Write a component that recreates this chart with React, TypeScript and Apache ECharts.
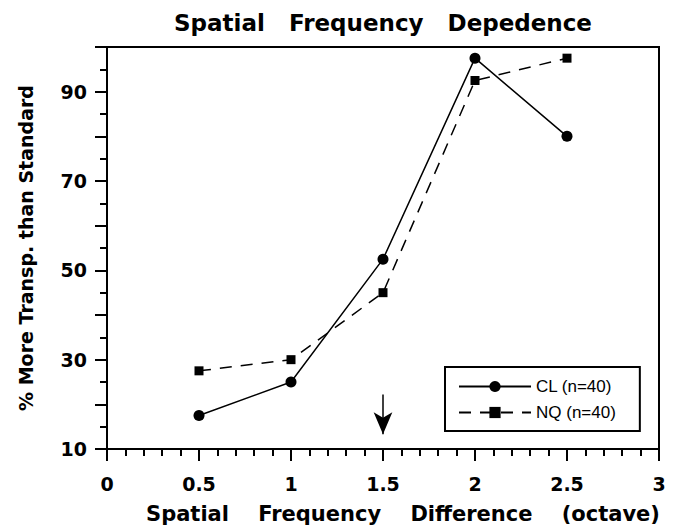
import React, { useEffect, useRef } from 'react';
import * as echarts from 'echarts';

const xValues = [0.5, 1, 1.5, 2, 2.5];
const clValues = [17.5, 25, 52.5, 97.5, 80];
const nqValues = [27.5, 30, 45, 92.5, 97.5];
const yLabelValues = [10, 30, 50, 70, 90];
const arrowX = 1.5;
const arrowFrom = 22.2;
const arrowTo = 13.3;
const titleText = 'Spatial   Frequency   Depedence';
const xName = 'Spatial    Frequency    Difference    (octave)';
const yName = '% More Transp. than Standard';
const seriesNames = ['CL (n=40)', 'NQ (n=40)'];

export default function App() {
  const ref = useRef<HTMLDivElement>(null);
  useEffect(() => {
    const chart = echarts.init(ref.current!, null, { renderer: 'svg' });
    const font = '"DejaVu Sans", sans-serif';
    const black = '#000';
    chart.setOption({
      animation: false,
      backgroundColor: '#fff',
      graphic: [
        {
          type: 'text',
          x: 383,
          y: 23,
          style: {
            text: titleText,
            fontFamily: font,
            fontWeight: 'bold',
            fontSize: 23,
            fill: black,
            textAlign: 'center',
            textVerticalAlign: 'middle',
          },
        },
      ],
      grid: {
        left: 107,
        right: 19,
        top: 47,
        bottom: 77,
        show: true,
        borderColor: black,
        borderWidth: 2,
        backgroundColor: 'transparent',
      },
      legend: {
        data: seriesNames,
        orient: 'vertical',
        left: 445,
        top: 367,
        itemWidth: 72,
        itemHeight: 14,
        itemGap: 9,
        padding: [11, 24, 10, 13],
        borderColor: black,
        borderWidth: 2,
        textStyle: { fontFamily: '"Liberation Sans", Arial, sans-serif', fontSize: 17, color: black },
      },
      xAxis: {
        type: 'value',
        min: 0,
        max: 3,
        interval: 0.5,
        axisLine: { show: true, lineStyle: { color: black, width: 2 } },
        axisTick: { show: true, length: 12, lineStyle: { color: black, width: 2 } },
        minorTick: { show: true, splitNumber: 5, length: 7, lineStyle: { color: black, width: 2 } },
        splitLine: { show: false },
        minorSplitLine: { show: false },
        axisLabel: { margin: 25, color: black, fontFamily: font, fontWeight: 'bold', fontSize: 19 },
        name: xName,
        nameLocation: 'middle',
        nameGap: 54,
        nameTextStyle: { color: black, fontFamily: font, fontWeight: 'bold', fontSize: 21, padding: [0, 0, 0, 40] },
      },
      yAxis: {
        type: 'value',
        min: 10,
        max: 100,
        interval: 10,
        axisLine: { show: true, lineStyle: { color: black, width: 2 } },
        axisTick: { show: true, length: 12, lineStyle: { color: black, width: 2 } },
        minorTick: { show: true, splitNumber: 2, length: 7, lineStyle: { color: black, width: 2 } },
        splitLine: { show: false },
        minorSplitLine: { show: false },
        axisLabel: {
          margin: 20,
          color: black,
          fontFamily: font,
          fontWeight: 'bold',
          fontSize: 19,
          formatter: (v: number) => (yLabelValues.includes(v) ? String(v) : ''),
        },
        name: yName,
        nameLocation: 'middle',
        nameGap: 72,
        nameTextStyle: { color: black, fontFamily: font, fontWeight: 'bold', fontSize: 19 },
      },
      series: [
        {
          name: seriesNames[0],
          type: 'line',
          data: xValues.map((x, i) => [x, clValues[i]]),
          symbol: 'circle',
          symbolSize: 11,
          lineStyle: { color: black, width: 1.5 },
          itemStyle: { color: black },
          markLine: {
            silent: true,
            symbol: ['none', 'arrow'],
            label: { show: false },
            lineStyle: { color: black, width: 1.5, type: 'solid' },
            data: [
              [
                { coord: [arrowX, arrowFrom], symbol: 'none' },
                { coord: [arrowX, arrowTo], symbol: 'arrow', symbolSize: [14, 22] },
              ],
            ],
          },
        },
        {
          name: seriesNames[1],
          type: 'line',
          data: xValues.map((x, i) => [x, nqValues[i]]),
          symbol: 'rect',
          symbolSize: 9,
          lineStyle: { color: black, width: 1.5, type: [12, 9] },
          itemStyle: { color: black },
        },
      ],
    });
    return () => chart.dispose();
  }, []);
  return <div ref={ref} style={{ position: 'fixed', left: 0, top: 0, width: 678, height: 529 }} />;
}
